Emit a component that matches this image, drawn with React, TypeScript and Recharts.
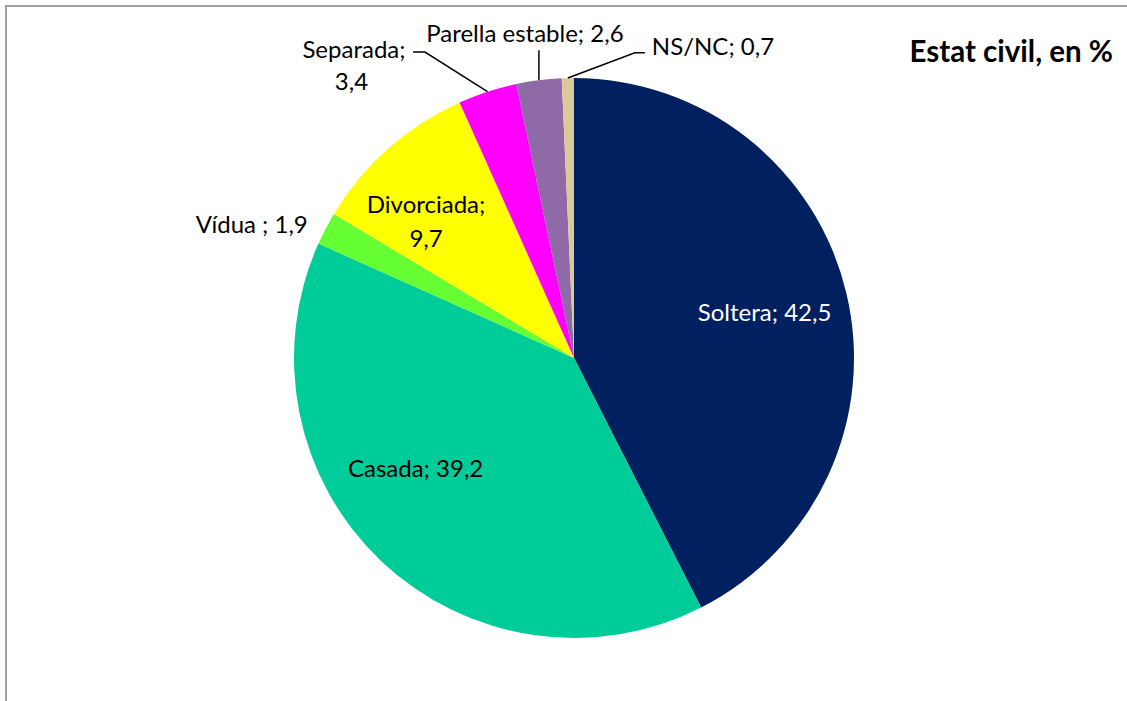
import React from 'react';
import { PieChart, Pie, Cell } from 'recharts';

const categories = ['Soltera', 'Casada', 'Vídua ', 'Divorciada', 'Separada', 'Parella estable', 'NS/NC'];
const values = [42.5, 39.2, 1.9, 9.7, 3.4, 2.6, 0.7];
const colors = ['#002060', '#00CC99', '#66FF33', '#FFFF00', '#FF00FF', '#8E6AA6', '#DCC99A'];
const title = 'Estat civil, en %';

const data = categories.map((name, i) => ({ name, value: values[i] }));

const RAD = Math.PI / 180;
const FONT = 'Lato, "Open Sans", sans-serif';
const FS = 24;
const fmt = (v: number) => v.toFixed(1).replace('.', ',');
const polar = (cx: number, cy: number, r: number, a: number) => ({
  x: cx + r * Math.cos(-a * RAD),
  y: cy + r * Math.sin(-a * RAD),
});

// label placement: polar offsets (angle delta, radius factor) or leader offsets from slice edge
const renderLabel = (props: any) => {
  const { cx, cy, midAngle, outerRadius, index, name, value } = props;
  const text = `${name}; ${fmt(value)}`;
  const common = { fontFamily: FONT, fontSize: FS } as any;
  const edge = polar(cx, cy, outerRadius, midAngle);

  if (index === 0 || index === 1 || index === 2) {
    const cfg = [
      { dA: 0, r: 0.7, fill: '#ffffff' },
      { dA: -11.5, r: 0.69, fill: '#000000' },
      { dA: 5, r: 1.246, fill: '#000000' },
    ][index];
    const p = polar(cx, cy, outerRadius * cfg.r, midAngle + cfg.dA);
    return (
      <text x={p.x} y={p.y + 8.5} textAnchor="middle" fill={cfg.fill} {...common}>
        {text}
      </text>
    );
  }
  if (index === 3) {
    const p = polar(cx, cy, outerRadius * 0.718, midAngle + 5.8);
    return (
      <g>
        <text x={p.x} y={p.y - 8.5} textAnchor="middle" fill="#000" {...common}>{`${name};`}</text>
        <text x={p.x} y={p.y + 25.5} textAnchor="middle" fill="#000" {...common}>{fmt(value)}</text>
      </g>
    );
  }
  if (index === 4) {
    return (
      <g>
        <polyline
          points={`${edge.x},${edge.y} ${edge.x - 62.5},${edge.y - 39.7} ${edge.x - 74.5},${edge.y - 39.7}`}
          fill="none" stroke="#000" strokeWidth={1.5}
        />
        <text x={edge.x - 133.5} y={edge.y - 33.7} textAnchor="middle" fill="#000" {...common}>{`${name};`}</text>
        <text x={edge.x - 136} y={edge.y - 1.7} textAnchor="middle" fill="#000" {...common}>{fmt(value)}</text>
      </g>
    );
  }
  if (index === 5) {
    return (
      <g>
        <polyline points={`${edge.x},${edge.y} ${edge.x},${edge.y - 30}`} fill="none" stroke="#000" strokeWidth={1.5} />
        <text x={edge.x - 14} y={edge.y - 38.5} textAnchor="middle" fill="#000" {...common}>{text}</text>
      </g>
    );
  }
  return (
    <g>
      <polyline
        points={`${edge.x},${edge.y} ${edge.x + 67},${edge.y - 25.3} ${edge.x + 77},${edge.y - 25.3}`}
        fill="none" stroke="#000" strokeWidth={1.5}
      />
      <text x={edge.x + 84} y={edge.y - 23} textAnchor="start" fill="#000" {...common}>{text}</text>
    </g>
  );
};

export default function App() {
  return (
    <div style={{ position: 'absolute', left: 0, top: 0, width: 1127, height: 701, overflow: 'hidden', background: '#fff' }}>
      <div
        style={{
          position: 'absolute', left: 5, top: 5, width: 1160, height: 740,
          border: '2px solid #a0a0a0', boxSizing: 'border-box',
        }}
      />
      <div
        style={{
          position: 'absolute', right: 14, top: 33, fontFamily: FONT, fontWeight: 700,
          fontSize: 29.5, color: '#000', whiteSpace: 'nowrap', lineHeight: '36px',
        }}
      >
        {title}
      </div>
      <div style={{ position: 'absolute', left: 0, top: 0 }}>
        <PieChart width={1127} height={701} margin={{ top: 0, right: 0, bottom: 0, left: 0 }}>
          <Pie
            data={data}
            dataKey="value"
            nameKey="name"
            cx={574}
            cy={358}
            outerRadius={280}
            startAngle={90}
            endAngle={-270}
            stroke="none"
            labelLine={false}
            label={renderLabel}
            isAnimationActive={false}
          >
            {data.map((d, i) => (
              <Cell key={d.name} fill={colors[i]} />
            ))}
          </Pie>
        </PieChart>
      </div>
    </div>
  );
}
